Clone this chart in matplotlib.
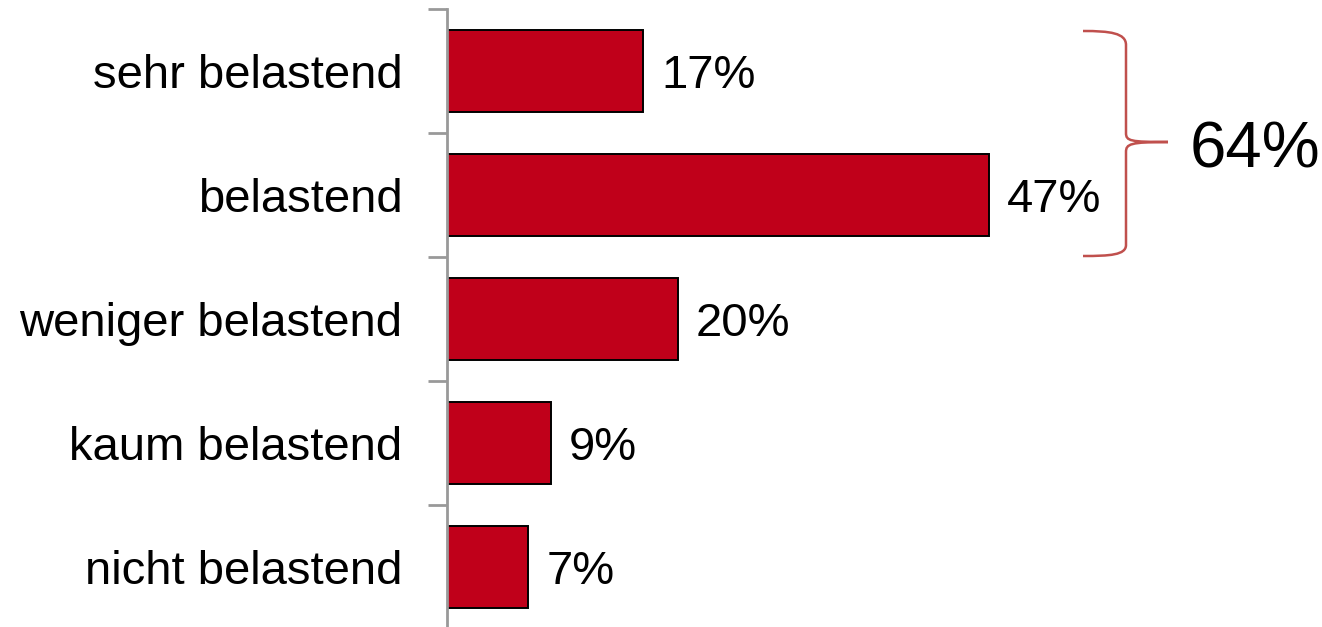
import matplotlib
matplotlib.use("Agg")
import matplotlib.pyplot as plt
from matplotlib.path import Path
from matplotlib.patches import PathPatch
import matplotlib.transforms as mtransforms

categories = ["sehr belastend", "belastend", "weniger belastend", "kaum belastend", "nicht belastend"]
values = [17, 47, 20, 9, 7]
value_labels = ["17%", "47%", "20%", "9%", "7%"]
total_label = "64%"

plt.rcParams['font.family'] = ['Liberation Sans', 'DejaVu Sans']

W, H = 1322, 627
fig = plt.figure(figsize=(W / 100, H / 100), dpi=100)
px_per_pct = 11.53
ax_left, ax_right = 447, 1300
ax_top, ax_bottom = 9, 629
ax = fig.add_axes([ax_left / W, 1 - ax_bottom / H, (ax_right - ax_left) / W, (ax_bottom - ax_top) / H])
ax.set_xlim(0, (ax_right - ax_left) / px_per_pct)
ax.set_ylim(len(categories) - 0.5, -0.5)

ypos = list(range(len(categories)))
ax.barh(ypos, values, height=0.66, color='#C0001A', edgecolor='black', linewidth=1.4)
for y, v, lab in zip(ypos, values, value_labels):
    ax.text(v + 1.6, y + 0.04, lab, va='center', ha='left', fontsize=34, color='black')

ax.set_yticks([i - 0.5 for i in range(len(categories) + 1)])
ax.set_yticklabels([])
ax.set_yticks(ypos, minor=True)
ax.set_yticklabels(categories, minor=True, fontsize=34)
ax.tick_params(axis='y', which='major', direction='out', length=14, width=2, color='#999999')
ax.tick_params(axis='y', which='minor', length=0, pad=32)
ax.set_xticks([])
for s in ['top', 'right', 'bottom']:
    ax.spines[s].set_visible(False)
ax.spines['left'].set_color('#999999')
ax.spines['left'].set_linewidth(2)

# brace in pixel coordinates (top-left origin)
def P(x, y):
    return (x, H - y)
verts = [
    P(1083, 31), P(1110, 31), P(1126, 33), P(1126, 45),
    P(1126, 133),
    P(1126, 141), P(1130, 142), P(1168, 142),
    P(1130, 142), P(1126, 144), P(1126, 152),
    P(1126, 245),
    P(1126, 255), P(1110, 256), P(1083, 256),
]
codes = [Path.MOVETO, Path.CURVE4, Path.CURVE4, Path.CURVE4,
         Path.LINETO,
         Path.CURVE4, Path.CURVE4, Path.CURVE4,
         Path.CURVE4, Path.CURVE4, Path.CURVE4,
         Path.LINETO,
         Path.CURVE4, Path.CURVE4, Path.CURVE4]
trans = mtransforms.Affine2D().scale(1.0 / W, 1.0 / H) + fig.transFigure
fig.patches.append(PathPatch(Path(verts, codes), facecolor='none', edgecolor='#C0504D', linewidth=1.8, transform=trans))
fig.text(1190 / W, 1 - 150 / H, total_label, fontsize=47, va='center', ha='left', color='black')

fig.savefig("out.png", dpi=100)
